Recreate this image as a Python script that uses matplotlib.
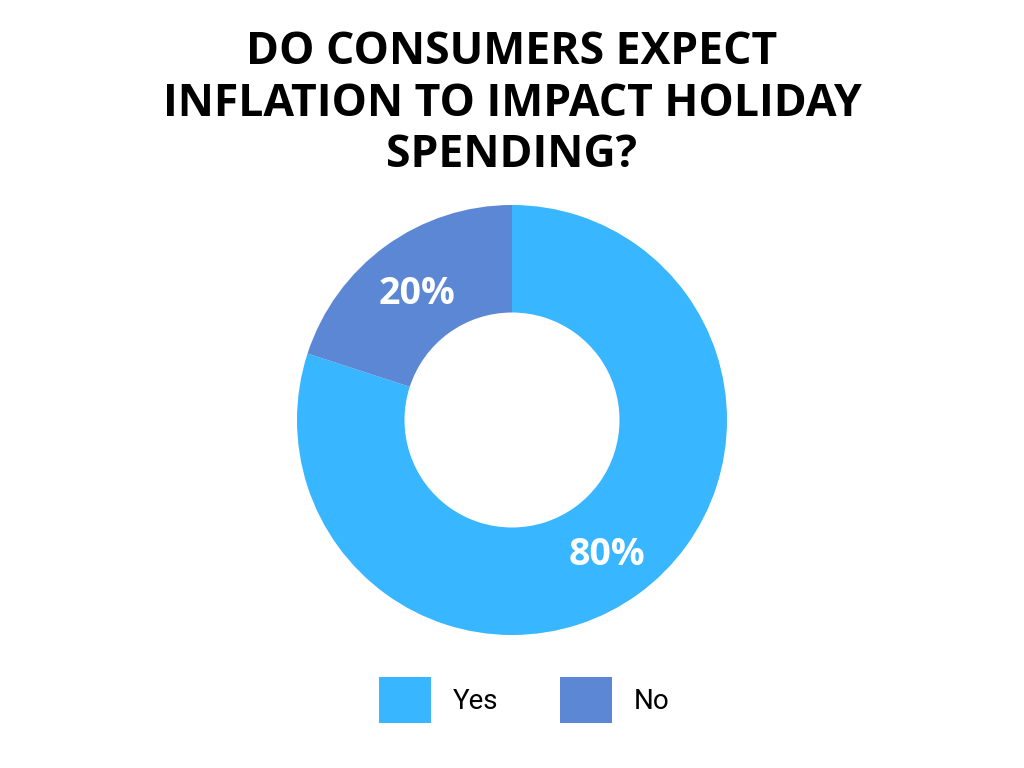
import numpy as np
import matplotlib.pyplot as plt
from matplotlib.patches import Patch

# dados
categorias = ['Yes', 'No']
valores = [80, 20]
cores = ['#38B6FF', '#5B87D4']
rotulos = ['80%', '20%']
titulo = 'DO CONSUMERS EXPECT\nINFLATION TO IMPACT HOLIDAY\nSPENDING?'

fig = plt.figure(figsize=(10.24, 7.68), dpi=100)
fig.patch.set_facecolor('white')

# eixo do donut: centro (512, 420), raio 215 px
r = 215
ax = fig.add_axes([(512 - r) / 1024, (768 - 420 - r) / 768, 2 * r / 1024, 2 * r / 768])
fatias, textos = ax.pie(valores, colors=cores, startangle=90, counterclock=False,
                        radius=1.0, wedgeprops=dict(width=0.5, edgecolor='none'))
for f, txt in zip(fatias, rotulos):
    ang = np.deg2rad((f.theta1 + f.theta2) / 2)
    ax.text(0.75 * np.cos(ang), 0.75 * np.sin(ang) - 0.02, txt, ha='center', va='center',
            color='white', fontsize=27, fontweight='bold', family='Open Sans')
ax.set_xlim(-1, 1)
ax.set_ylim(-1, 1)
ax.set_aspect('equal')
ax.axis('off')

# titulo
fig.text(0.5, 1 - 104 / 768, titulo, ha='center', va='center', fontsize=32,
         fontweight='bold', family='Open Sans', linespacing=1.18, color='black')

# legenda
alcas = [Patch(facecolor=c, edgecolor='none', label=l) for c, l in zip(cores, categorias)]
fig.legend(handles=alcas, loc='center', bbox_to_anchor=(0.512, 1 - 700 / 768), ncol=2,
           frameon=False, prop={'family': 'Roboto', 'size': 20},
           handlelength=1.87, handleheight=2.22, handletextpad=0.8, columnspacing=2.2)

plt.savefig('out.png', dpi=100)
